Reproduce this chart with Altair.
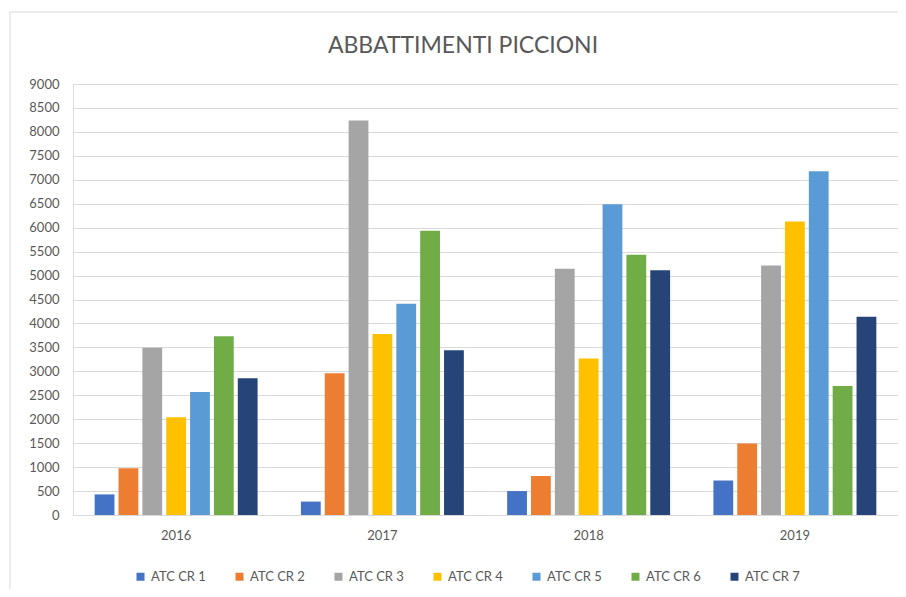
import altair as alt
import pandas as pd

years = ["2016", "2017", "2018", "2019"]
series = ["ATC CR 1", "ATC CR 2", "ATC CR 3", "ATC CR 4", "ATC CR 5", "ATC CR 6", "ATC CR 7"]
cr1 = [430, 280, 500, 720]
cr2 = [975, 2960, 815, 1495]
cr3 = [3490, 8240, 5140, 5210]
cr4 = [2040, 3780, 3270, 6130]
cr5 = [2570, 4410, 6490, 7180]
cr6 = [3730, 5935, 5435, 2695]
cr7 = [2855, 3440, 5110, 4140]
colors = ["#4472C4", "#ED7D31", "#A5A5A5", "#FFC000", "#5B9BD5", "#70AD47", "#264478"]
title_text = "ABBATTIMENTI PICCIONI"

values = [cr1, cr2, cr3, cr4, cr5, cr6, cr7]
rows = []
for s, vals in zip(series, values):
    for y, v in zip(years, vals):
        rows.append({"Anno": y, "Serie": s, "Valore": v})
df = pd.DataFrame(rows)

FONT = "Lato"
GREY = "#595959"

bars = alt.Chart(df).mark_bar().encode(
    x=alt.X("Anno:N", sort=years,
            scale=alt.Scale(paddingInner=0.21, paddingOuter=0.105),
            axis=alt.Axis(title=None, labelAngle=0, labelFontSize=13, labelColor=GREY,
                          labelFont=FONT, ticks=False, domainColor="#d9d9d9",
                          labelPadding=14)),
    xOffset=alt.XOffset("Serie:N", sort=series, scale=alt.Scale(paddingInner=0.17)),
    y=alt.Y("Valore:Q", scale=alt.Scale(domain=[0, 9000]),
            axis=alt.Axis(title=None, values=list(range(0, 9001, 500)), format="d",
                          labelFontSize=13, labelColor=GREY, labelFont=FONT,
                          ticks=False, domain=False, gridColor="#d9d9d9", labelPadding=14)),
    color=alt.Color("Serie:N", sort=series,
                    scale=alt.Scale(domain=series, range=colors),
                    legend=alt.Legend(title=None, orient="none", direction="horizontal",
                                      columns=7, legendX=61, legendY=486,
                                      symbolType="square", symbolSize=64,
                                      symbolStrokeWidth=0, labelFontSize=13,
                                      labelColor=GREY, labelFont=FONT,
                                      columnPadding=27, symbolOffset=0, labelOffset=4)),
)

one = pd.DataFrame({"k": [0]})
vline = alt.Chart(one).mark_rule(color="#d9d9d9", strokeWidth=1, clip=False).encode(
    x=alt.value(-63), y=alt.value(-72), y2=alt.value(520)
)
hline = alt.Chart(one).mark_rule(color="#d9d9d9", strokeWidth=1, clip=False).encode(
    x=alt.value(-63), x2=alt.value(830), y=alt.value(-72)
)
title = alt.Chart(one).mark_text(fontSize=23, font=FONT, color=GREY, align="center",
                                 baseline="alphabetic", clip=False).encode(
    x=alt.value(390), y=alt.value(-31), text=alt.value(title_text)
)

chart = alt.layer(bars, vline, hline, title).properties(
    width=825, height=431,
    autosize=alt.AutoSizeParams(type="none"),
    padding={"left": 65, "top": 76, "right": 0, "bottom": 74},
).configure_view(stroke=None).configure(background="white")

chart.save("out.html", embed_options={"renderer": "svg", "actions": False})
